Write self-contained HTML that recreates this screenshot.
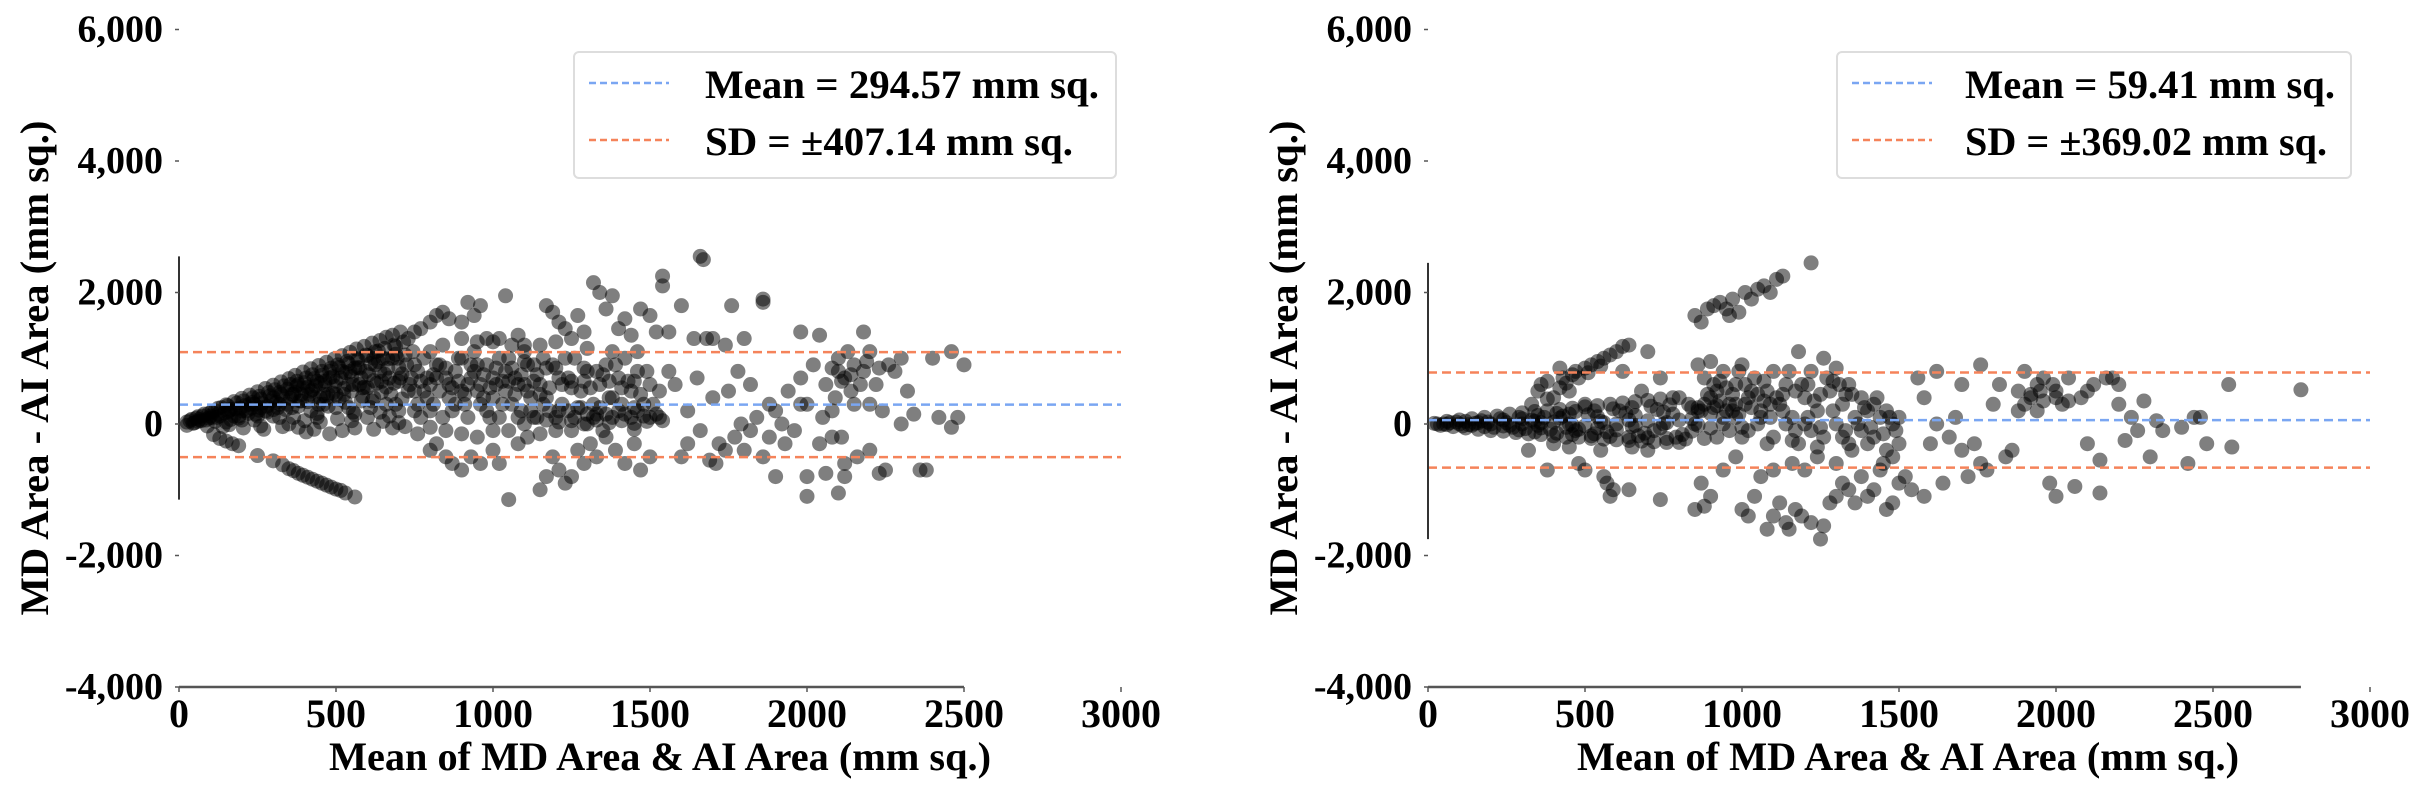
<!DOCTYPE html>
<html><head><meta charset="utf-8"><style>
html,body{margin:0;padding:0;background:#fff;}
svg{display:block;}
text{font-family:"Liberation Serif","Times New Roman",serif;font-weight:bold;fill:#000;}
</style></head><body>
<svg id="fig" width="2425" height="794" viewBox="0 0 2425 794" xmlns="http://www.w3.org/2000/svg"></svg>
<script>
const xTicks = [0, 500, 1000, 1500, 2000, 2500, 3000];
const yTicks = [6000, 4000, 2000, 0, -2000, -4000];
const yTickLabels = ["6,000", "4,000", "2,000", "0", "-2,000", "-4,000"];
const leftMean = 294.57;
const leftSD = 407.14;
const rightMean = 59.41;
const rightSD = 369.02;
const leftLegend = ["Mean = 294.57 mm sq.", "SD = \u00b1407.14 mm sq."];
const rightLegend = ["Mean = 59.41 mm sq.", "SD = \u00b1369.02 mm sq."];
const leftPoints = [
[25,30],[25,-20],[40,70],[50,20],[60,110],[70,50],[80,150],[90,-30],[95,90],[105,190],[115,40],[125,240],[130,120],[140,-40],[150,290],[155,180],[165,70],[175,340],[180,230],[190,120],[200,390],[205,-60],[210,280],[220,160],[225,440],[235,330],[240,60],[250,490],[255,210],[260,380],[270,-80],[275,540],[280,270],[290,430],[300,590],[300,120],[310,330],[320,480],[325,640],[330,-40],[340,220],[345,530],[350,690],[355,390],[365,100],[370,740],[375,580],[380,270],[390,450],[395,790],[400,630],[405,-120],[410,340],[420,840],[425,520],[430,690],[440,160],[445,890],[450,400],[455,740],[465,590],[470,940],[475,270],[480,800],[490,470],[495,990],[500,650],[505,80],[510,860],[520,1040],[525,540],[530,330],[540,920],[545,1090],[550,720],[555,180],[565,1140],[570,980],[575,600],[585,420],[590,1180],[595,800],[600,1040],[610,250],[615,1230],[620,660],[625,900],[635,1110],[640,1270],[645,480],[655,760],[660,1320],[665,990],[670,120],[680,1350],[685,620],[690,1180],[700,860],[705,1400],[710,380],[720,1050],[730,1300],[740,700],
[60,40],[100,120],[120,100],[160,200],[200,200],[240,300],[260,250],[300,400],[320,300],[360,450],[380,600],[420,500],[440,650],[460,450],[480,700],[500,450],[520,800],[540,600],[560,850],[580,700],[600,550],[620,1000],[640,800],[660,560],[680,1000],[700,650],[420,200],[460,300],[500,250],[540,250],[580,350],[620,400],[660,300],[700,200],[360,250],[300,220],[250,120],[200,60],[150,30],[350,0],[400,50],[450,30],[550,50],[600,100],[650,40],[700,20],[380,-50],[430,-80],[480,-150],[520,-100],[560,-60],[620,-80],[680,-60],[720,-40],[260,-30],[160,-10],
[330,420],[370,480],[410,560],[450,620],[490,720],[530,780],[570,860],[610,920],[650,1000],[690,1060],[470,400],[510,380],[550,500],[590,560],[630,620],[670,700],[710,760],[390,350],[430,410],[280,180],[230,240],[190,90],[320,100],[440,100],[560,150],[640,180],[690,300],[730,500],
[35,50],[45,10],[55,90],[65,70],[75,120],[85,60],[95,160],[105,100],[115,200],[125,150],[135,250],[145,170],[155,280],[165,220],[175,120],[185,320],[195,240],[205,350],[215,200],[225,300],[235,400],[245,150],[255,420],[265,320],[275,200],[285,480],[295,350],[305,520],[315,250],[325,450],[335,580],[345,300],[355,600],[365,450],[375,650],[385,350],[395,550],[405,700],[415,450],[425,750],[435,580],[445,300],[455,800],[465,650],[475,450],[485,850],[495,580],[505,900],[515,700],[525,450],[535,950],[545,800],[555,600],[565,1000],[575,850],[585,550],[595,1050],[605,750],[615,350],[625,1100],[635,950],[645,650],[655,1150],[665,850],[675,450],[685,1200],[695,1000],[705,700],[715,1250],[725,900],[735,600],[745,1100],
[110,-160],[130,-220],[150,-260],[170,-300],[190,-330],[250,-480],[300,-560],[330,-620],[350,-680],[365,-710],[380,-750],[395,-780],[410,-810],[425,-840],[440,-870],[455,-900],[470,-930],[485,-960],[500,-990],[515,-1010],[530,-1050],[560,-1110],
[750,1400],[770,1450],[800,1550],[820,1650],[840,1700],[860,1600],[900,1550],[920,1850],[940,1650],[960,1800],[980,1300],[1000,1250],[1040,1950],[1020,1300],[1060,1200],[1080,1350],[1100,1100],[1130,900],[1150,1200],[1170,1800],[1190,1700],[1210,1550],[1230,1450],[1250,1300],[1270,1650],[1290,1400],[1320,2150],[1340,2000],[1360,1750],[1380,1950],[1400,1450],[1420,1600],[1440,1350],[1470,1750],[1500,1650],[1520,1400],
[760,800],[780,1000],[800,600],[820,900],[840,1200],[860,400],[880,800],[900,1000],[920,600],[940,1100],[960,300],[980,900],[1000,700],[1020,1000],[1040,500],[1060,850],[1080,600],[1100,950],[1120,400],[1140,750],[1160,1000],[1180,550],[1200,850],[1220,300],[1240,700],[1260,1000],[1280,500],[1300,800],[1320,300],[1340,600],[1360,900],[1380,400],[1400,700],[1420,1000],[1440,500],[1460,800],[1480,300],[1500,600],
[770,650],[810,750],[850,850],[890,650],[930,900],[970,750],[1010,850],[1050,650],[1090,750],[1130,650],[1170,850],[1210,700],[1250,550],[1290,650],[1330,800],[1370,650],[1410,550],[1450,650],[790,400],[830,500],[870,550],[910,450],[950,500],[990,550],[1030,650],[1070,450],[1110,500],[1150,450],
[750,200],[750,500],[750,900],[770,100],[790,700],[810,300],[830,900],[850,700],[870,200],[890,1000],[910,300],[930,700],[950,900],[970,400],[990,100],[1010,600],[1030,300],[1050,1000],[1070,700],[1090,200],[1110,900],[1130,100],[1150,600],[1170,400],[1190,900],[1210,200],[1230,1000],[1250,650],[1270,250],[1290,850],[1310,550],[1330,150],[1350,750],[1370,400],[1390,900],[1410,300],[1430,650],[1450,250],[1470,450],[1490,800],[1510,300],[1530,500],[760,-150],[800,-50],[850,-100],[900,-150],[1050,-100],[1150,-150],[1250,-100],[1350,-100],[1450,-80],[1100,1200],[1200,1250],[1300,1150],[900,1300],[950,1250],[800,1100],[1380,1100],[1460,1100],
[760,300],[780,500],[800,200],[820,700],[840,100],[860,600],[880,300],[900,500],[920,100],[940,800],[960,600],[980,200],[1000,400],[1020,100],[1040,800],[1060,300],[1080,100],[1100,600],[1120,200],[1140,100],[1160,300],[1180,200],[1200,100],[1220,600],[1240,200],[1260,100],[1280,250],[1300,150],[1320,100],[1340,250],[1360,150],[1380,100],[1400,200],[1420,150],[1440,100],[1460,200],[1480,120],[1500,100],[1520,150],[1540,50],
[1250,50],[1290,0],[1330,60],[1370,20],[1410,50],[1450,10],[1490,40],[1530,100],[1210,30],[1170,60],
[800,-400],[820,-300],[850,-500],[870,-600],[900,-700],[930,-500],[960,-600],[1000,-400],[1020,-600],[1050,-1150],[1080,-300],[1110,-200],[1150,-1000],[1170,-800],[1190,-500],[1210,-700],[1230,-900],[1250,-800],[1270,-400],[1290,-600],[1310,-300],[1330,-500],[1360,-200],[1390,-400],[1420,-600],[1450,-300],[1470,-700],[1500,-500],[1000,-100],[950,-200],[1100,0],[1200,-100],[1300,0],
[1540,2250],[1540,2100],[1560,1400],[1580,600],[1600,1800],[1600,-500],[1620,200],[1640,1300],[1660,2550],[1670,2500],[1680,1300],[1690,-550],[1700,400],[1720,-300],[1740,1200],[1750,500],[1760,1800],[1770,-200],[1780,800],[1800,1300],[1800,-400],[1820,600],[1840,100],[1860,1900],[1860,1850],[1860,-500],[1880,300],[1900,-800],[1900,200],[1920,0],[1940,500],[1960,-100],[1980,1400],[1980,700],[2000,-1100],[2000,-800],[2000,300],[2020,900],[2040,1350],[2040,-300],[2060,-750],[2060,600],[2080,-200],[2080,200],[2100,-1050],[2100,800],[2100,1000],[2120,-800],[2120,-600],[2120,700],[2140,500],[2150,900],[2160,-500],[2180,1400],[2180,800],[2200,1100],[2200,-400],[2220,600],[2230,-750],[2240,200],[2250,-700],[2260,900],[2280,800],[2300,1000],[2300,0],[2320,500],[2340,150],[2360,-700],[2380,-700],[2400,1000],[2420,100],[2460,1100],[2460,-50],[2480,100],[2500,900],[2110,-200],[2130,1100],[2200,300],[2050,100],[1980,300],[1820,-100],[1700,1300],[1620,-300],[1560,800],[1650,700],[1710,-600],[1790,0],
[2080,850],[2110,650],[2140,750],[2170,600],[2190,950],[2230,850],[2090,400],[2150,300],[1880,-200],[1930,-300],[1740,-400],[1660,-100]
];
const rightPoints = [
[20,10],[40,-20],[60,40],[80,-40],[100,60],[120,-60],[140,80],[160,-80],[180,100],[200,-100],[220,120],[240,-110],[260,150],[280,-130],[300,170],[320,-150],[340,190],[360,-160],[380,200],[400,-180],[420,220],[440,-200],[460,240],[480,-200],[500,260],[520,-220],[540,280],[560,-230],[580,300],[600,-240],[620,320],[640,-250],[660,340],[680,-260],[700,360],[720,-270],[740,380],[760,-280],[780,400],[800,-280],
[50,0],[100,0],[150,10],[200,0],[250,20],[300,0],[350,-20],[400,30],[450,0],[500,-30],[550,40],[600,0],[650,-40],[700,50],[750,0],[800,60],[850,0],[900,-60],[120,40],[180,-40],[240,60],[300,80],[360,-60],[420,90],[480,-80],[540,110],[600,-90],[660,130],[720,-100],[780,150],[840,-110],[900,160],
[70,20],[130,-10],[190,30],[270,-50],[330,60],[390,-80],[430,120],[470,-100],[510,140],[570,-120],[630,160],[690,-140],[750,180],[810,-160],[870,200],[310,-70],[370,100],[450,150],[530,-150],[610,200],[670,-180],[730,220],[790,-200],[860,250],
[30,0],[90,30],[110,-30],[170,50],[210,-50],[230,80],[290,-90],[290,100],[340,-120],[350,130],[410,-140],[410,160],[460,-160],[470,190],[520,-180],[530,200],[580,-190],[590,230],[640,-200],[650,250],[700,-210],[710,270],[760,-220],[770,290],[820,-230],[830,300],[880,-220],[880,300],[920,-200],[920,280],[940,0],[960,-100],[980,100],[60,-10],[160,20],[260,-20],[360,20],[460,-20],[560,20],[660,-20],[760,20],[860,-20],[140,-20],[240,-30],[340,40],[440,-50],[540,-60],[640,60],[740,-60],[840,80],[380,380],[420,550],[440,620],[480,700],[510,780],[550,880],[400,-300],[450,-350],[550,-400],[650,-350],[700,-400],
[330,300],[400,400],[450,500],[500,300],[350,500],[380,650],[430,700],[470,800],[520,900],[560,1000],[600,1100],[620,1180],[640,1200],[580,1050],[540,950],[500,850],[460,750],[420,850],[360,600],[320,-400],[380,-700],[480,-600],[500,-700],[560,-800],[570,-900],[590,-1000],[580,-1100],[640,-1000],[740,-1150],[620,800],[700,1100],[740,700],[680,500],[800,400],[840,250],
[850,1650],[870,1550],[890,1750],[910,1800],[930,1850],[950,1750],[970,1900],[990,1700],[1010,2000],[1030,1900],[1050,2050],[1070,2100],[1090,2000],[1110,2200],[1130,2250],[1220,2450],[960,1650],
[860,900],[880,700],[900,950],[920,500],[940,800],[960,300],[980,600],[1000,900],[1020,400],[1040,700],[1060,200],[1080,500],[1100,800],[1120,300],[1140,600],[1160,100],[1180,1100],[1200,400],[1220,800],[1240,200],[1260,1000],[1280,500],[1300,850],[1320,300],[1340,600],[1360,100],[1380,400],[1400,200],[1420,300],[1440,100],[1460,200],[1480,0],[1500,100],
[890,450],[930,650],[970,450],[1010,600],[1050,450],[1090,300],[1130,450],[1170,500],[1210,600],[1250,450],[1290,650],[1330,450],[910,250],[950,200],[990,150],[1030,250],[1070,350],
[910,600],[950,550],[990,800],[1030,500],[1070,650],[1110,400],[1150,800],[1190,600],[1230,350],[1270,700],[1310,600],[1350,450],[1390,250],[1430,400],[1470,100],[930,350],[970,200],[1010,300],[1050,0],[1090,100],[1130,200],[1170,-100],[1210,100],[1250,-50],[1290,200],[1330,-100],[1370,0],[1410,-50],[1450,-150],[1490,-100],[1000,-200],[1080,-300],[1160,-250],[1240,-350],[1320,-200],[1400,-300],[1480,-500],[1000,-50],[1200,0],
[860,200],[900,400],[940,100],[980,300],[1020,-100],[1060,100],[1100,-200],[1140,0],[1180,-300],[1220,-100],[1260,-200],[1300,0],[1340,-300],[1380,-100],[1420,-200],[1460,-400],[1500,-300],
[870,-900],[850,-1300],[880,-1250],[900,-1100],[940,-700],[980,-500],[1000,-1300],[1020,-1400],[1040,-1100],[1060,-800],[1080,-1600],[1100,-1400],[1120,-1200],[1140,-1500],[1150,-1600],[1170,-1300],[1190,-1400],[1220,-1500],[1250,-1750],[1260,-1550],[1280,-1200],[1300,-1100],[1320,-900],[1340,-1000],[1360,-1200],[1380,-800],[1400,-1100],[1420,-1000],[1440,-700],[1460,-1300],[1480,-1200],[1500,-900],[1200,-700],[1240,-500],[1160,-600],[1100,-700],[1300,-600],[1350,-400],[1450,-600],
[1520,-800],[1540,-1000],[1560,700],[1580,-1100],[1600,-300],[1620,800],[1640,-900],[1660,-200],[1680,100],[1700,-400],[1720,-800],[1740,-300],[1760,900],[1760,-600],[1780,-700],[1800,300],[1820,600],[1840,-500],[1860,-400],[1880,500],[1900,300],[1900,800],[1920,400],[1940,200],[1960,700],[1980,-900],[2000,500],[2000,-1100],[2020,300],[2040,700],[2060,-950],[2080,400],[2100,-300],[2120,600],[2140,-1050],[2140,-550],[2160,700],[2200,600],[2200,300],[2220,-250],[2240,100],[2260,-100],[2280,350],[2300,-500],[2320,50],[2340,-100],[2400,-50],[2420,-600],[2440,100],[2460,100],[2480,-300],[2550,600],[2560,-350],[2780,520],[1950,500],[1880,200],[1620,0],[1700,600],[1580,400],[2180,700],[2100,500],
[1920,450],[1960,350],[2000,400],[2040,350],[1940,600],[1990,600]
];

const NS = 'http://www.w3.org/2000/svg';
const svg = document.getElementById('fig');
function mk(tag, attrs, parent) {
  const e = document.createElementNS(NS, tag);
  for (const k in attrs) e.setAttribute(k, attrs[k]);
  parent.appendChild(e);
  return e;
}
const PXU = 157 / 500;
const Y0 = 424, PYU = 131.5 / 2000;
function yScale(v) { return Y0 - v * PYU; }

function drawChart(key, x0, points, mean, sd, legend, lg, yTitleX, xTitleX, xMaxSpine) {
  const xScale = v => x0 + v * PXU;
  const g = mk('g', {}, svg);
  
  
  const pg = mk('g', {}, g);
  
  
  points.forEach(p => {
    const c = mk('circle', {cx: xScale(p[0]), cy: yScale(p[1]), r: 7.5, fill: '#000', 'fill-opacity': 0.5}, pg);
    
    
  });
  const xEnd = xScale(3000);
  const lines = [[mean, '#7aa6f2', 'mean-line'], [mean + 1.96 * sd, '#f5835a', 'upper-sd-line'], [mean - 1.96 * sd, '#f5835a', 'lower-sd-line']];
  lines.forEach(l => {
    const ln = mk('line', {x1: x0, x2: xEnd, y1: yScale(l[0]), y2: yScale(l[0]), stroke: l[1], 'stroke-width': 2.5, 'stroke-dasharray': '9,5'}, g);
    
    
  });
  let ymin = Infinity, ymax = -Infinity;
  points.forEach(p => { ymin = Math.min(ymin, p[1]); ymax = Math.max(ymax, p[1]); });
  const ls = mk('line', {x1: x0, x2: x0, y1: yScale(ymax), y2: yScale(ymin), stroke: '#333', 'stroke-width': 2}, g);
  
  
  const bs = mk('line', {x1: x0, x2: xScale(xMaxSpine), y1: yScale(-4000), y2: yScale(-4000), stroke: '#555', 'stroke-width': 2.5}, g);
  
  
  yTicks.forEach((t, i) => {
    const tk = mk('line', {x1: x0 - 4, x2: x0, y1: yScale(t), y2: yScale(t), stroke: '#555', 'stroke-width': 1.5}, g);
    
    
    const tx = mk('text', {x: x0 - 16, y: yScale(t) + 12, 'font-size': 38, 'text-anchor': 'end'}, g);
    tx.textContent = yTickLabels[i];
    
    
  });
  xTicks.forEach(t => {
    const tk = mk('line', {x1: xScale(t), x2: xScale(t), y1: yScale(-4000), y2: yScale(-4000) + 5, stroke: '#555', 'stroke-width': 1.5}, g);
    
    
    const tx = mk('text', {x: xScale(t), y: 727, 'font-size': 40, 'text-anchor': 'middle'}, g);
    tx.textContent = String(t);
    
    
  });
  const xt = mk('text', {x: xTitleX, y: 770, 'font-size': 40, 'text-anchor': 'middle', textLength: 662, lengthAdjust: 'spacingAndGlyphs'}, g);
  xt.textContent = 'Mean of MD Area & AI Area (mm sq.)';
  
  
  const yt = mk('text', {x: 0, y: 0, 'font-size': 40, 'text-anchor': 'middle', textLength: 495, lengthAdjust: 'spacingAndGlyphs', transform: 'translate(' + yTitleX + ',368) rotate(-90)'}, g);
  yt.textContent = 'MD Area - AI Area (mm sq.)';
  
  
  const lgG = mk('g', {}, g);
  
  
  mk('rect', {x: lg.x, y: 52, width: lg.w, height: 126, rx: 5, fill: '#fff', stroke: '#ddd', 'stroke-width': 2}, lgG);
  const cols = ['#7aa6f2', '#f5835a'];
  [83, 140].forEach((yy, i) => {
    const s = mk('line', {x1: lg.x + 15, x2: lg.x + 95, y1: yy, y2: yy, stroke: cols[i], 'stroke-width': 2.5, 'stroke-dasharray': '7,4'}, lgG);
    
    
    const t = mk('text', {x: lg.tx, y: yy + 15, 'font-size': 40, textLength: lg.tw[i], lengthAdjust: 'spacingAndGlyphs'}, lgG);
    t.textContent = legend[i];
    
    
  });
}
drawChart('left', 179, leftPoints, leftMean, leftSD, leftLegend, {x: 574, w: 542, tx: 705, tw: [394, 368]}, 48, 660, 2500);
drawChart('right', 1428, rightPoints, rightMean, rightSD, rightLegend, {x: 1837, w: 514, tx: 1965, tw: [370, 362]}, 1297, 1908, 2780);
</script>
</body></html>
